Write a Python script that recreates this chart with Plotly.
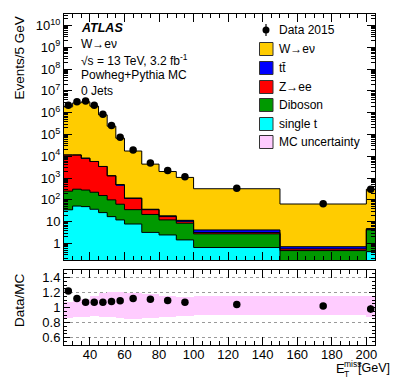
import plotly.graph_objects as go
import numpy as np

# ---------------- data ----------------
bin_edges = [25, 30, 35, 40, 45, 50, 55, 60, 70, 80, 90, 100, 150, 200, 205]
single_t = [35, 52, 49, 37, 26, 17, 12, 7.8, 3.2, 2.45, 1.45, 0.65, 0.05, 0.42]
diboson = [216, 257, 233, 187, 132, 83, 51, 27.7, 18.2, 9.6, 7.05, 2.1, 0.42, 3.8]
z_ee = [11230, 11170, 7850, 5530, 3230, 1160, 416, 82, 14, 5.0, 2.0, 0.41, 0.09, 0.3]
ttbar = [20, 25, 30, 30, 30, 28, 25, 3.0, 1.7, 1.6, 1.0, 1.0, 0.15, 0.3]
w_enu = [1.85e6, 2.81e6, 3.15e6, 1.99e6, 7.9e5, 2.39e5, 6.7e4, 1.73e4, 4330, 1980, 1060, 320, 63.8, 304]
data_2015 = [2.2e6, 3.2e6, 3.4e6, 2.2e6, 8.5e5, 2.6e5, 7.4e4, 1.95e4, 4.9e3, 2.2e3, 1.15e3, 340, 66, 308]
ratio = [1.22, 1.12, 1.07, 1.07, 1.07, 1.08, 1.09, 1.12, 1.11, 1.095, 1.07, 1.04, 1.02, 0.98]
ratio_err = [0.005, 0.003, 0.003, 0.003, 0.003, 0.004, 0.005, 0.006, 0.01, 0.015, 0.02, 0.02, 0.04, 0.05]
unc_up = [1.08, 1.10, 1.12, 1.15, 1.19, 1.21, 1.21, 1.20, 1.18, 1.15, 1.14, 1.15, 1.16, 1.16]
unc_down = [0.86, 0.87, 0.88, 0.89, 0.88, 0.87, 0.86, 0.85, 0.86, 0.87, 0.89, 0.90, 0.90, 0.88]

ytick_vals = [1, 10, 1e2, 1e3, 1e4, 1e5, 1e6, 1e7, 1e8, 1e9, 1e10]
ytick_text = ["1", "10"] + ["10<sup>%d</sup>" % k for k in range(2, 11)]
xtick_vals = [40, 60, 80, 100, 120, 140, 160, 180, 200]
rtick_vals = [0.6, 0.8, 1.0, 1.2, 1.4]
rtick_text = ["0.6", "0.8", "1", "1.2", "1.4"]

components = [
    ("single t", single_t, "#00FFFF"),
    ("Diboson", diboson, "#009900"),
    ("Z→ee", z_ee, "#FF0000"),
    ("tt\u0304", ttbar, "#0000FF"),
    ("W→eν", w_enu, "#FFCC00"),
]

# ---------------- geometry ----------------
W, H = 395, 379
L, R, T, B = 64, 20, 14, 34
PW, PH = W - L - R, H - T - B
top_y0_px, ratio_y1_px = 260, 270


def px(xp):
    return (xp - L) / PW


def py(yp):
    return (H - B - yp) / PH


FONT = "Liberation Sans, Arial, Helvetica, sans-serif"

edges = np.array(bin_edges, dtype=float)
centers = (edges[:-1] + edges[1:]) / 2
widths = edges[1:] - edges[:-1]

fig = go.Figure()

# stacked fills
cum = np.zeros(len(centers))
cums = []
for name, vals, col in components:
    v = np.array(vals, dtype=float)
    fig.add_trace(go.Bar(x=centers, y=v, width=widths, marker_color=col,
                         marker_line_width=0, xaxis="x", yaxis="y",
                         showlegend=False, hoverinfo="skip"))
    cum = cum + v
    cums.append(cum.copy())

# outlines
for c in cums:
    fig.add_trace(go.Scatter(x=edges, y=list(c) + [c[-1]], mode="lines",
                             line=dict(color="black", width=1, shape="hv"),
                             xaxis="x", yaxis="y", showlegend=False, hoverinfo="skip"))

# data
fig.add_trace(go.Scatter(x=centers, y=data_2015, mode="markers",
                         marker=dict(color="black", size=7.5),
                         xaxis="x", yaxis="y", showlegend=False))

# ratio band
fig.add_trace(go.Bar(x=centers, y=np.array(unc_up) - np.array(unc_down), base=unc_down,
                     width=widths, marker_color="#FFCCFF", marker_line_width=0,
                     xaxis="x2", yaxis="y2", showlegend=False, hoverinfo="skip"))
fig.add_trace(go.Scatter(x=centers, y=ratio, mode="markers",
                         error_y=dict(type="data", array=ratio_err, color="black",
                                      thickness=1.2, width=0),
                         marker=dict(color="black", size=7.5),
                         xaxis="x2", yaxis="y2", showlegend=False))

top_dom = [py(top_y0_px), 1.0]
rat_dom = [0.0, py(ratio_y1_px)]

minor_log = [k * 10.0 ** n for n in range(-1, 11) for k in range(2, 10)]

axis_common = dict(showline=True, linecolor="black", linewidth=1, mirror="allticks",
                   ticks="inside", tickcolor="black", zeroline=False,
                   tickfont=dict(family=FONT, size=13, color="black"))

fig.update_layout(
    width=W, height=H,
    margin=dict(l=L, r=R, t=T, b=B),
    paper_bgcolor="white", plot_bgcolor="white",
    barmode="stack",
    bargap=0,
    showlegend=False,
    xaxis=dict(domain=[0, 1], range=[25, 205], anchor="y", showticklabels=False,
               tickvals=xtick_vals, ticklen=8, showgrid=False,
               minor=dict(dtick=5, tick0=0, ticks="inside", ticklen=4, tickcolor="black"),
               **axis_common),
    yaxis=dict(domain=top_dom, type="log", range=[-0.76, 10.53], anchor="x",
               tickvals=ytick_vals, ticktext=ytick_text, ticklen=8, showgrid=False,
               minor=dict(tickmode="array", tickvals=minor_log, ticks="inside",
                          ticklen=4, tickcolor="black"),
               **axis_common),
    xaxis2=dict(domain=[0, 1], range=[25, 205], anchor="y2", matches="x",
                tickvals=xtick_vals, ticklen=8, showgrid=False, ticklabelstandoff=-3,
                minor=dict(dtick=5, tick0=0, ticks="inside", ticklen=4, tickcolor="black"),
                **axis_common),
    yaxis2=dict(domain=rat_dom, range=[0.5, 1.5], anchor="x2",
                tickvals=rtick_vals, ticktext=rtick_text, ticklen=6,
                minor=dict(dtick=0.05, tick0=0, ticks="inside", ticklen=3, tickcolor="black"),
                showgrid=True, gridcolor="#999999", griddash="dot", gridwidth=1,
                **axis_common),
)

ann = []


def text(xp, yp, s, size=12, xanchor="left", yanchor="middle", **kw):
    ann.append(dict(x=px(xp), y=py(yp), xref="paper", yref="paper", text=s,
                    showarrow=False, xanchor=xanchor, yanchor=yanchor,
                    font=dict(family=FONT, size=size, color="black"), **kw))


# axis titles
ann.append(dict(x=px(19), y=py(15), xref="paper", yref="paper", text="Events/5 GeV",
                textangle=-90, showarrow=False, xanchor="center", yanchor="top",
                font=dict(family=FONT, size=13.5, color="black")))
ann.append(dict(x=px(19), y=py(300), xref="paper", yref="paper", text="Data/MC",
                textangle=-90, showarrow=False, xanchor="center", yanchor="middle",
                font=dict(family=FONT, size=13.5, color="black")))
text(334, 368, "E", size=13)
text(341.5, 364.5, "miss", size=8.5)
text(341.5, 374, "T", size=8.5)
text(392, 368, "[GeV]", size=12.5, xanchor="right")

# top-left labels
text(79, 28, "<b><i>ATLAS</i></b>", size=12.5)
text(79, 44, "W→eν", size=12)
text(79, 60, "√s = 13 TeV, 3.2 fb<sup>-1</sup>", size=12)
text(79, 75, "Powheg+Pythia MC", size=12)
text(79, 91, "0 Jets", size=12)

# legend
shapes = []
leg_rows = [
    ("Data 2015", None, 30),
    ("W→eν", "#FFCC00", 49),
    ("tt\u0304", "#0000FF", 68),
    ("Z→ee", "#FF0000", 87),
    ("Diboson", "#009900", 105),
    ("single t", "#00FFFF", 124),
    ("MC uncertainty", "#FFCCFF", 142),
]
for label, col, yc in leg_rows:
    if col is None:
        shapes.append(dict(type="line", xref="paper", yref="paper",
                           x0=px(266), x1=px(266), y0=py(yc - 6), y1=py(yc + 6),
                           line=dict(color="black", width=1.2)))
        shapes.append(dict(type="circle", xref="paper", yref="paper",
                           x0=px(262.5), x1=px(269.5), y0=py(yc + 3.5), y1=py(yc - 3.5),
                           fillcolor="black", line=dict(color="black", width=0)))
    else:
        shapes.append(dict(type="rect", xref="paper", yref="paper",
                           x0=px(259.5), x1=px(273), y0=py(yc + 6.5), y1=py(yc - 6.5),
                           fillcolor=col, line=dict(color="#333333", width=1)))
    text(277, yc, label, size=12)

fig.update_layout(annotations=ann, shapes=shapes)
fig.write_html("out.html", config={"displayModeBar": False},
               post_script="document.body.style.margin='0';document.body.style.overflow='hidden';")
